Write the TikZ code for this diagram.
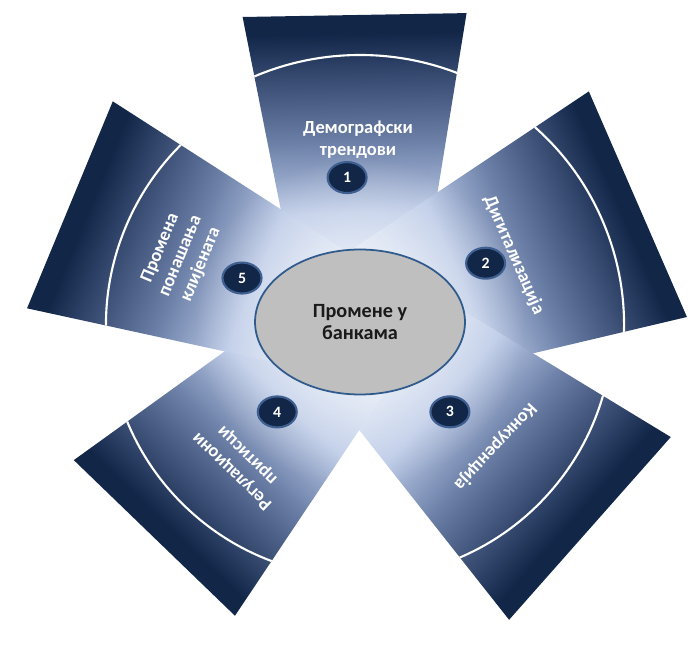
\documentclass[tikz,border=0pt]{standalone}
\usepackage{fontspec}
\setmainfont{Carlito}
\usetikzlibrary{shapes.geometric,fadings,calc}
\definecolor{Navy}{HTML}{122648}
\definecolor{Deep}{HTML}{32466C}
\definecolor{Steel}{HTML}{697DA5}
\definecolor{Sky}{HTML}{B9C8E6}
\definecolor{Haze}{HTML}{DEE7F5}
\definecolor{HubGray}{HTML}{BFBFBF}
\definecolor{HubRim}{HTML}{2F5B8C}
\definecolor{BadgeRim}{HTML}{3E5F8F}
\definecolor{Ink}{HTML}{1A1A1A}
% light at the hub, navy at the outer edge
\pgfdeclareverticalshading{blade}{100bp}{color(0bp)=(Haze); color(25bp)=(Haze); color(43bp)=(Sky); color(55bp)=(Steel); color(66bp)=(Deep); color(72bp)=(Navy); color(100bp)=(Navy)}
\tikzfading[name=glowfade, inner color=transparent!0, outer color=transparent!100]
\tikzset{
  bladetext/.style={text=white,font=\fontsize{10.5}{12.5}\selectfont\bfseries,align=center,inner sep=0pt},
  badge/.style={ellipse,fill=Navy,draw=BadgeRim,line width=1.2pt,minimum width=0.78cm,minimum height=0.62cm,inner sep=0pt,text=white,font=\fontsize{9}{10}\selectfont\bfseries},
  hub/.style={ellipse,fill=HubGray,draw=HubRim,line width=1pt,minimum width=4.2cm,minimum height=2.9cm,align=center,text=Ink,font=\fontsize{11.5}{12.5}\selectfont\bfseries},
  rim/.style={draw=white,line width=1.2pt}
}

\begin{document}
\begin{tikzpicture}[x=0.02cm,y=0.02cm]
  \useasboundingbox (0,0) rectangle (695,653);
  \coordinate (C) at (360,328);

  % blades: axis angle / outer radius / outer half width / rim radius
  \foreach \a/\r/\w/\c in {91/310/112/270, 23.5/303/123/264, -41.5/307/122/253, -134/296/112/252, 157.5/314/112/254}{
    \pgfmathsetmacro{\wi}{\w-0.18*\r}
    \begin{scope}[transform canvas={shift={(360,328)},rotate=\a-90}]
      \shade[shading=blade] (-\wi,0) -- (\wi,0) -- (\w,\r) -- (-\w,\r) -- cycle;
      \begin{scope}
        \clip (-\wi,0) -- (\wi,0) -- (\w,\r) -- (-\w,\r) -- cycle;
        \draw[rim] (0,0) circle (\c);
      \end{scope}
    \end{scope}
  }

  % soft light round the hub
  \fill[white,path fading=glowfade,opacity=0.85] (360,331) circle (165);

  \node[hub] (hub) at (360,331) {Промене у\\банкама};

  \foreach \n/\a/\d in {1/95/148, 2/26.2/140, 3/-44/125, 4/-133.6/120, 5/158.3/127}
    \node[badge] (badge\n) at ($(C)+(\a:\d)$) {\n};

  % topic texts: rotation / position angle / distance / text
  \foreach \n/\rot/\a/\d/\txt in {1/0/90.6/185/{Демографски\\трендови}, 2/-66.5/24.4/169/{Дигитализација}, 3/-133/-42/182/{Конкуренција}, 4/136/-131/183/{Регулациони\\притисци}, 5/67.5/159/192/{Промена\\понашања\\клијената}}
    \node[bladetext,rotate=\rot] (topic\n) at ($(C)+(\a:\d)$) {\txt};
\end{tikzpicture}
\end{document}
